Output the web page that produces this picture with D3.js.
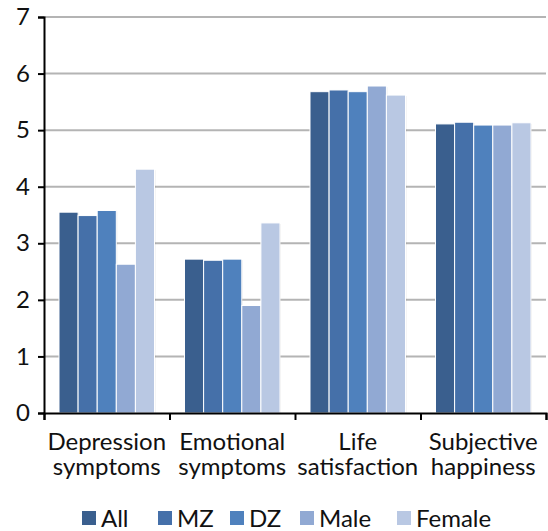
<!DOCTYPE html>
<html>
<head>
<meta charset="utf-8">
<script src="https://cdn.jsdelivr.net/npm/d3@7"></script>
<style>
  body { margin: 0; background: #fff; }
  svg text { font-family: Lato, "Open Sans", sans-serif; fill: #111; }
</style>
</head>
<body>
<svg id="chart" width="548" height="531"></svg>
<script>
// data
var categories = [["Depression", "symptoms"], ["Emotional", "symptoms"], ["Life", "satisfaction"], ["Subjective", "happiness"]];
var series = ["All", "MZ", "DZ", "Male", "Female"];
var allVals    = [3.55, 2.72, 5.68, 5.11];
var mzVals     = [3.49, 2.70, 5.71, 5.14];
var dzVals     = [3.58, 2.72, 5.68, 5.09];
var maleVals   = [2.63, 1.90, 5.78, 5.09];
var femaleVals = [4.31, 3.36, 5.62, 5.13];
var yTicks = [0, 1, 2, 3, 4, 5, 6, 7];
var colors = ["#3a5f8e", "#4570a9", "#4f81bd", "#91a9d3", "#b9c8e3"];

var values = [allVals, mzVals, dzVals, maleVals, femaleVals];

var svg = d3.select("svg#chart");
var pLeft = 44, pRight = 546, pTop = 17, pBottom = 413;

var x = d3.scaleBand()
          .domain(d3.range(categories.length))
          .range([pLeft, pRight])
          .paddingInner(0)
          .paddingOuter(0);

var xs = d3.scaleBand()
           .domain(series)
           .range([15, x.bandwidth() - 15]);

var y = d3.scaleLinear()
          .domain([0, 7])
          .range([pBottom, pTop]);

var color = d3.scaleOrdinal().domain(series).range(colors);

// gridlines
svg.append("g")
   .selectAll("line")
   .data(yTicks.filter(function(d) { return d > 0; }))
   .enter().append("line")
   .attr("x1", pLeft)
   .attr("x2", pRight)
   .attr("y1", function(d) { return y(d); })
   .attr("y2", function(d) { return y(d); })
   .attr("stroke", "#b4b4b4")
   .attr("stroke-width", 2);

// bars
var groups = svg.selectAll("g.cat")
                .data(categories)
                .enter().append("g")
                .attr("class", "cat")
                .attr("transform", function(d, i) { return "translate(" + x(i) + ",0)"; });

// faint shadow
groups.selectAll("rect.shadow")
      .data(function(d, i) { return series.map(function(s, j) { return {s: s, v: values[j][i]}; }); })
      .enter().append("rect")
      .attr("class", "shadow")
      .attr("x", function(d) { return xs(d.s) + 1; })
      .attr("y", function(d) { return y(d.v) + 1; })
      .attr("width", xs.bandwidth())
      .attr("height", function(d) { return pBottom - y(d.v) - 1; })
      .attr("fill", "#000")
      .style("opacity", 0.08);

groups.selectAll("rect.bar")
      .data(function(d, i) { return series.map(function(s, j) { return {s: s, v: values[j][i]}; }); })
      .enter().append("rect")
      .attr("class", "bar")
      .attr("x", function(d) { return xs(d.s); })
      .attr("y", function(d) { return y(d.v); })
      .attr("width", xs.bandwidth())
      .attr("height", function(d) { return pBottom - y(d.v); })
      .attr("fill", function(d) { return color(d.s); })
      .attr("stroke", "#fff")
      .attr("stroke-width", 1);

// y axis
var yAxis = svg.append("g")
               .attr("transform", "translate(" + pLeft + ",0)")
               .call(d3.axisLeft(y).tickValues(yTicks).tickFormat(d3.format("d")).tickSize(6).tickPadding(8));
yAxis.select(".domain").attr("stroke", "#000").attr("stroke-width", 2);
yAxis.selectAll(".tick line").attr("stroke", "#000").attr("stroke-width", 2);
yAxis.selectAll(".tick text")
     .style("font-family", "Lato, sans-serif")
     .style("font-size", "24px")
     .attr("fill", "#111");

// x axis
var xAxis = svg.append("g")
               .attr("transform", "translate(0," + pBottom + ")")
               .call(d3.axisBottom(d3.scaleLinear().domain([0, 4]).range([pLeft, pRight]))
                       .tickValues([0, 1, 2, 3, 4]).tickSize(7).tickFormat(""));
xAxis.select(".domain").attr("stroke", "#000").attr("stroke-width", 2);
xAxis.selectAll(".tick line").attr("stroke", "#000").attr("stroke-width", 2);

// category labels
var lab = svg.append("g")
             .selectAll("text")
             .data(categories)
             .enter().append("text")
             .attr("text-anchor", "middle")
             .attr("x", function(d, i) { return x(i) + x.bandwidth() / 2; })
             .attr("y", 450)
             .style("font-size", "24px");
lab.append("tspan")
   .attr("x", function(d, i) { return x(i) + x.bandwidth() / 2; })
   .text(function(d) { return d[0]; });
lab.append("tspan")
   .attr("x", function(d, i) { return x(i) + x.bandwidth() / 2; })
   .attr("dy", 25)
   .text(function(d) { return d[1]; });

// legend
var legX = [82, 158, 230, 300, 397];
var legend = svg.append("g")
                .selectAll("g")
                .data(series)
                .enter().append("g")
                .attr("transform", function(d, i) { return "translate(" + legX[i] + ",511)"; });
legend.append("rect")
      .attr("width", 14)
      .attr("height", 14)
      .attr("fill", function(d) { return color(d); });
legend.append("text")
      .attr("x", 19)
      .attr("y", 16)
      .style("font-size", "24px")
      .text(function(d) { return d; });
</script>
</body>
</html>
